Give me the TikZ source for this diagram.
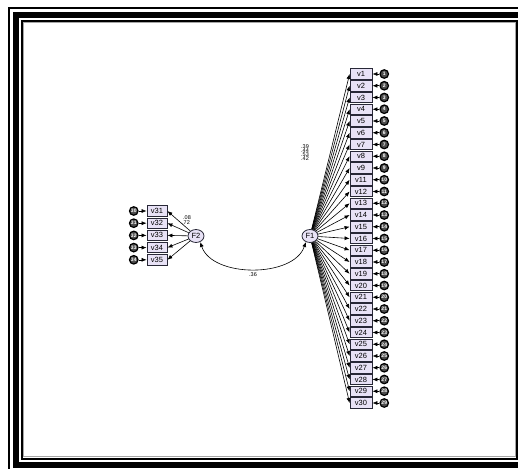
\documentclass[tikz,border=0pt]{standalone}
\usepackage{fontspec}
\setmainfont{Liberation Sans}
\usetikzlibrary{arrows.meta,positioning,shapes.geometric}
\definecolor{amoslilac}{RGB}{232,226,246}
\definecolor{amosedge}{RGB}{40,40,55}

\begin{document}
\begin{tikzpicture}[
  x=1pt,y=-1pt,
  every node/.style={font=\fontsize{7.5}{8}\selectfont},
  obsbox/.style={draw=amosedge,fill=amoslilac,minimum width=22pt,minimum height=10.5pt,
                 inner sep=0pt,line width=0.8pt},
  latent/.style={ellipse,draw=amosedge,fill=amoslilac,minimum width=16pt,minimum height=13pt,
                 inner sep=0pt,line width=0.8pt},
  errc/.style={circle,draw=black,fill=black!70,text=white,line width=1.2pt,minimum size=8.5pt,
               inner sep=0pt,font=\fontsize{5}{5}\selectfont\bfseries},
  regarrow/.style={-{Latex[length=5pt,width=4pt]},line width=0.6pt},
  estlabel/.style={font=\fontsize{5.5}{5.5}\selectfont,inner sep=0pt},
]
  % Page and frame
  \clip (0,0) rectangle (518,468);
  \fill[white] (0,0) rectangle (518,468);
  \draw[line width=2pt] (9,8) rectangle (530,471);
  \draw[line width=6pt] (16,15) rectangle (523,465);
  \draw[line width=2pt] (22,21) rectangle (517,459);
  \draw[gray!70,line width=1pt] (23.5,22.5) rectangle (515.5,456.5);

  % Latent factors
  \node[latent] (F1) at (310,236) {F1};
  \node[latent] (F2) at (196,236) {F2};

  % Indicators of F1
  \foreach \v [count=\i] in {1,...,9,11,12,...,30} {
    \node[obsbox] (v\v) at (361,{74+(\i-1)*11.75}) {v\v};
    \node[errc,right=7pt of v\v] (e\i) {\i};
    \draw[regarrow] (e\i) -- (v\v);
    \draw[regarrow] (F1) -- (v\v.west);
  }

  % Indicators of F2
  \foreach \v [count=\i from 30] in {31,...,35} {
    \node[obsbox,minimum width=20pt] (v\v) at (157,{211+(\v-31)*12.2}) {v\v};
    \node[errc,left=8pt of v\v] (e\i) {\i};
    \draw[regarrow] (e\i) -- (v\v);
    \draw[regarrow] (F2) -- (v\v.east);
  }

  % Estimates
  \foreach \t [count=\k] in {.39,.44,.53,.42} {
    \node[estlabel] (l\k) at (305,{142+\k*4.2}) {\t};
  }
  \node[estlabel] (m1) at (187,218) {.08};
  \node[estlabel] (m2) at (186,223) {.72};

  % Correlation F1 -- F2
  \draw[{Latex[length=5pt,width=4pt]}-{Latex[length=5pt,width=4pt]},line width=0.6pt]
    (F2.-55) .. controls +(12,36) and +(-12,36) .. (F1.-125)
    node[pos=0.5,below=3pt,estlabel] (r12) {.36};
\end{tikzpicture}
\end{document}
